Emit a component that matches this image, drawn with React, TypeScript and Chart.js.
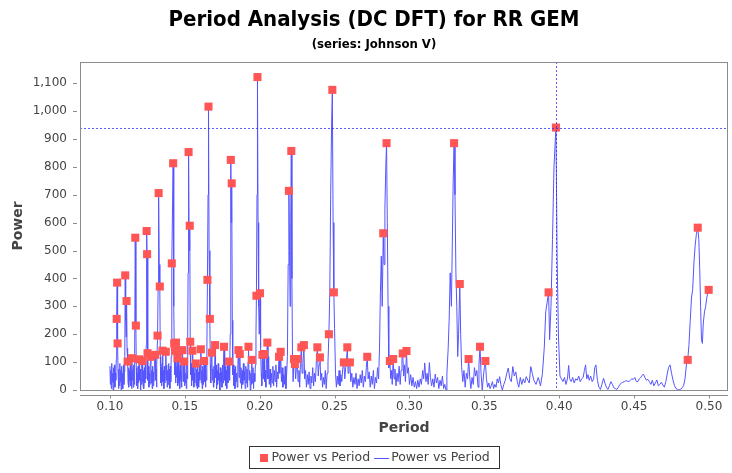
import React, { useEffect, useRef } from "react";
import { Chart, registerables } from "chart.js";

Chart.register(...registerables);

// ---------- text ----------
const chartTitle = "Period Analysis (DC DFT) for RR GEM";
const chartSubtitle = "(series: Johnson V)";
const xAxisTitle = "Period";
const yAxisTitle = "Power";
const seriesLabels = ["Power vs Period", "Power vs Period"];

// ---------- axes ----------
const xTickValues = [0.1, 0.15, 0.2, 0.25, 0.3, 0.35, 0.4, 0.45, 0.5];
const yTickValues = [0, 100, 200, 300, 400, 500, 600, 700, 800, 900, 1000, 1100];
const xRange = [0.08, 0.5127];
const yRange = [0, 1176];

// ---------- crosshair (selected top hit) ----------
const crosshairPeriod = 0.3978;
const crosshairPower = 941;

// ---------- power spectrum (period, power) ----------
const curveA: [number, number][] = [
  [0.1000,85],[0.1003,20],[0.1006,70],[0.1009,5],[0.1012,95],[0.1015,30],[0.1018,60],[0.1021,0],[0.1024,80],[0.1027,25],
  [0.1030,90],[0.1033,10],[0.1036,60],[0.1039,35],[0.1042,110],[0.1045,255],[0.1048,385],[0.1051,167],[0.1054,60],[0.1057,5],
  [0.1060,75],[0.1063,15],[0.1066,95],[0.1069,30],[0.1072,70],[0.1075,0],[0.1078,85],[0.1081,25],[0.1084,60],[0.1087,5],
  [0.1090,90],[0.1093,20],[0.1096,65],[0.1099,120],[0.1102,411],[0.1105,250],[0.1108,190],[0.1111,319],[0.1114,150],[0.1118,102],
  [0.1121,25],[0.1124,80],[0.1127,10],[0.1130,70],[0.1133,35],[0.1136,95],[0.1139,15],[0.1142,65],[0.1145,5],[0.1147,114],
  [0.1150,35],[0.1153,75],[0.1156,10],[0.1159,90],[0.1162,20],[0.1165,130],[0.1169,546],[0.1173,231],[0.1176,80],[0.1179,15],
  [0.1182,60],[0.1185,5],[0.1188,85],[0.1191,25],[0.1195,110],[0.1198,35],[0.1201,75],[0.1204,0],[0.1207,60],[0.1210,20],
  [0.1213,90],[0.1216,30],[0.1218,104],[0.1221,15],[0.1224,70],[0.1227,5],[0.1230,80],[0.1233,25],[0.1236,95],[0.1239,40],
  [0.1242,160],[0.1245,570],[0.1248,487],[0.1251,132],[0.1254,35],[0.1257,85],[0.1260,10],[0.1263,60],[0.1266,20],[0.1269,95],
  [0.1273,119],[0.1276,25],[0.1279,70],[0.1282,5],[0.1285,85],[0.1288,15],[0.1291,65],[0.1294,30],[0.1297,90],[0.1302,126],
  [0.1305,35],[0.1308,75],[0.1311,10],[0.1314,90],[0.1318,195],[0.1322,380],[0.1325,706],[0.1329,450],[0.1333,371],[0.1336,120],
  [0.1339,25],[0.1342,80],[0.1345,15],[0.1348,95],[0.1351,141],[0.1354,30],[0.1357,70],[0.1360,5],[0.1363,85],[0.1366,25],
  [0.1369,60],[0.1373,137],[0.1376,35],[0.1379,90],[0.1382,10],[0.1385,70],[0.1388,20],[0.1391,95],[0.1394,35],[0.1397,75],
  [0.1400,5],[0.1403,85],[0.1406,30],[0.1409,120],[0.1413,454],[0.1417,620],[0.1422,813],[0.1426,300],[0.1429,167],[0.1432,55],
  [0.1435,141],[0.1438,25],[0.1441,170],[0.1444,45],[0.1448,85],[0.1451,114],[0.1454,15],[0.1457,137],[0.1460,25],[0.1463,70],
  [0.1466,5],[0.1469,90],[0.1472,35],[0.1475,65],[0.1478,10],[0.1481,95],[0.1485,143],[0.1488,30],[0.1491,75],[0.1495,102],
  [0.1498,15],[0.1501,80],[0.1504,25],[0.1507,60],[0.1510,5],[0.1513,90],[0.1516,40],[0.1519,180],[0.1522,420],[0.1525,853],
  [0.1529,500],[0.1533,589],[0.1536,173],[0.1539,55],[0.1542,95],[0.1545,15],[0.1548,70],[0.1551,141],[0.1554,35],[0.1557,85],
  [0.1560,10],[0.1563,60],[0.1566,25],[0.1569,90],[0.1573,95],[0.1576,15],[0.1579,75],[0.1582,5],[0.1585,85],[0.1588,30],
  [0.1591,65],[0.1594,10],[0.1597,90],[0.1600,35],[0.1604,80],[0.1607,146],[0.1610,25],[0.1613,70],[0.1616,5],[0.1619,85],
  [0.1622,20],[0.1625,60],[0.1629,104],[0.1632,30],[0.1635,90],[0.1638,10],[0.1641,75],[0.1644,35],[0.1647,130],[0.1651,395],
  [0.1655,700],[0.1658,1016],[0.1662,500],[0.1667,255],[0.1670,90],[0.1673,25],[0.1677,110],[0.1680,134],[0.1684,35],[0.1687,75],
  [0.1691,10],[0.1694,85],[0.1698,25],[0.1702,161],[0.1705,45],[0.1709,90],[0.1712,5],[0.1716,70],[0.1719,20],[0.1723,95],
  [0.1726,35],[0.1730,60],[0.1734,0],[0.1737,80],[0.1741,30],[0.1745,65],[0.1748,10],[0.1752,90],[0.1755,25],[0.1759,120],
  [0.1762,155],[0.1766,35],[0.1769,85],[0.1773,15],[0.1777,70],[0.1780,5],[0.1784,90],[0.1788,25],[0.1791,60],[0.1795,102],
  [0.1799,35],[0.1803,200],[0.1807,825],[0.1810,600],[0.1813,741],[0.1817,250],[0.1820,55],[0.1824,90],[0.1828,15],[0.1832,75],
  [0.1835,5],[0.1839,85],[0.1843,30],[0.1847,60],[0.1850,10],[0.1854,90],[0.1858,143],[0.1862,45],[0.1867,129],[0.1871,25],
  [0.1875,80],[0.1879,5],[0.1883,70],[0.1887,20],[0.1891,95],[0.1895,35],[0.1899,65],[0.1903,5],[0.1907,85],[0.1911,25],
  [0.1915,75],[0.1919,10],[0.1922,100],[0.1925,155],[0.1929,35],[0.1933,70],[0.1937,0],[0.1941,60],[0.1945,20],[0.1947,108],
  [0.1951,25],[0.1955,80],[0.1959,5],[0.1963,60],[0.1967,30],[0.1971,90],[0.1975,200],[0.1978,338],[0.1982,700],[0.1985,1122],
  [0.1989,600],[0.1993,300],[0.1997,200],[0.2002,347],[0.2006,150],[0.2010,60],
];

const curveB: [number, number][] = [
  [0.2014,15],[0.2018,126],[0.2022,40],[0.2025,90],[0.2029,129],[0.2033,30],[0.2037,70],[0.2041,10],[0.2045,95],[0.2051,170],
  [0.2055,40],[0.2060,120],[0.2064,20],[0.2069,75],[0.2073,10],[0.2078,60],[0.2083,25],[0.2088,85],[0.2093,15],[0.2098,70],
  [0.2103,30],[0.2108,90],[0.2113,10],[0.2118,65],[0.2123,40],[0.2129,119],[0.2134,60],[0.2140,137],[0.2145,30],[0.2150,80],
  [0.2155,10],[0.2160,55],[0.2165,20],[0.2170,85],[0.2175,5],[0.2180,60],[0.2185,120],[0.2190,450],[0.2195,714],[0.2199,500],
  [0.2203,300],[0.2207,600],[0.2211,857],[0.2215,400],[0.2219,120],[0.2223,30],[0.2229,111],[0.2235,93],[0.2240,40],[0.2245,80],
  [0.2251,111],[0.2256,30],[0.2262,70],[0.2267,10],[0.2272,95],[0.2278,153],[0.2283,60],[0.2289,100],[0.2295,161],[0.2300,40],
  [0.2306,70],[0.2312,10],[0.2318,55],[0.2324,20],[0.2330,65],[0.2336,5],[0.2342,50],[0.2348,25],[0.2354,80],[0.2360,15],
  [0.2366,60],[0.2372,30],[0.2378,100],[0.2385,153],[0.2391,50],[0.2396,90],[0.2402,117],[0.2408,35],[0.2414,60],[0.2420,10],
  [0.2426,45],[0.2432,20],[0.2438,70],[0.2444,5],[0.2450,60],[0.2456,100],[0.2462,200],[0.2468,350],[0.2474,700],[0.2480,950],
  [0.2485,1076],[0.2490,600],[0.2495,350],[0.2500,220],[0.2506,60],[0.2512,10],[0.2518,50],[0.2524,20],[0.2530,70],[0.2536,15],
  [0.2542,55],[0.2548,30],[0.2554,75],[0.2562,99],[0.2568,40],[0.2574,80],[0.2580,110],[0.2585,153],[0.2590,60],[0.2596,90],
  [0.2602,99],[0.2608,30],[0.2615,60],[0.2622,10],[0.2629,45],[0.2636,20],[0.2643,60],[0.2650,5],[0.2657,40],[0.2664,15],
  [0.2671,55],[0.2678,25],[0.2685,70],[0.2692,10],[0.2699,50],[0.2706,30],[0.2712,80],[0.2718,119],[0.2724,40],[0.2731,65],
  [0.2738,10],[0.2745,50],[0.2752,20],[0.2759,70],[0.2766,5],[0.2773,45],[0.2780,25],[0.2787,80],[0.2794,40],[0.2800,150],
  [0.2806,350],[0.2812,480],[0.2818,300],[0.2825,562],[0.2830,450],[0.2836,650],[0.2842,800],[0.2847,885],[0.2852,600],[0.2857,300],
  [0.2862,80],[0.2869,104],[0.2875,40],[0.2880,70],[0.2885,20],[0.2891,111],[0.2897,40],[0.2903,75],[0.2910,15],[0.2917,60],
  [0.2924,30],[0.2931,85],[0.2938,20],[0.2944,70],[0.2950,110],[0.2955,131],[0.2961,50],[0.2967,90],[0.2973,30],[0.2980,140],
  [0.2986,60],[0.2993,80],[0.3000,20],
];

const curveC: [number, number][] = [
  [0.3008,55],[0.3016,15],[0.3024,45],[0.3032,10],[0.3040,30],[0.3048,5],[0.3056,35],[0.3064,10],[0.3072,40],[0.3080,20],
  [0.3088,70],[0.3095,40],[0.3102,97],[0.3110,30],[0.3118,60],[0.3125,20],[0.3133,98],[0.3140,45],[0.3148,15],[0.3156,40],
  [0.3164,10],[0.3172,57],[0.3180,25],[0.3188,45],[0.3196,5],[0.3204,35],[0.3212,15],[0.3220,50],[0.3228,5],[0.3236,20],
  [0.3244,0],[0.3250,60],[0.3258,143],[0.3265,250],[0.3272,420],[0.3280,300],[0.3286,520],[0.3292,750],[0.3298,885],[0.3304,700],
  [0.3310,420],[0.3316,300],[0.3322,120],[0.3328,200],[0.3336,380],[0.3342,200],[0.3348,84],[0.3356,30],[0.3364,70],[0.3372,10],
  [0.3380,60],[0.3388,40],[0.3395,111],[0.3402,50],[0.3410,5],[0.3418,45],[0.3426,20],[0.3434,80],[0.3442,50],[0.3450,70],
  [0.3458,10],[0.3464,90],[0.3471,155],[0.3478,60],[0.3486,0],[0.3494,50],[0.3500,80],[0.3507,104],[0.3514,40],[0.3522,10],
  [0.3530,25],[0.3538,5],[0.3546,15],[0.3554,30],[0.3562,5],[0.3570,20],[0.3578,10],[0.3586,40],[0.3594,25],[0.3602,48],
  [0.3610,20],[0.3620,0],[0.3630,20],[0.3640,35],[0.3650,60],[0.3660,79],[0.3670,40],[0.3680,30],[0.3690,84],[0.3700,50],
  [0.3710,65],[0.3720,30],[0.3730,10],[0.3740,45],[0.3750,20],[0.3760,40],[0.3770,25],[0.3780,48],[0.3790,35],[0.3800,25],
  [0.3810,84],[0.3820,60],[0.3830,36],[0.3845,20],[0.3860,45],[0.3875,15],[0.3888,60],[0.3900,150],[0.3910,280],[0.3929,350],
  [0.3936,180],[0.3945,300],[0.3955,540],[0.3965,800],[0.3978,941],[0.3986,470],[0.3995,190],[0.4005,50],
];

const curveD: [number, number][] = [
  [0.4015,40],[0.4025,30],[0.4035,45],[0.4045,20],[0.4055,40],[0.4063,88],[0.4070,40],[0.4080,30],[0.4090,45],[0.4100,25],
  [0.4110,40],[0.4120,35],[0.4130,50],[0.4140,30],[0.4150,40],[0.4160,45],[0.4168,70],[0.4176,90],[0.4184,40],[0.4192,55],
  [0.4200,35],[0.4210,50],[0.4220,30],[0.4230,40],[0.4237,80],[0.4245,90],[0.4255,35],[0.4265,10],[0.4275,2],[0.4285,20],
  [0.4296,42],[0.4305,25],[0.4315,10],[0.4325,2],[0.4335,15],[0.4345,30],[0.4355,20],[0.4365,8],[0.4375,5],[0.4385,2],
  [0.4395,10],[0.4405,20],[0.4415,25],[0.4425,28],[0.4435,30],[0.4445,33],[0.4455,32],[0.4465,30],[0.4475,35],[0.4485,40],
  [0.4495,38],[0.4505,45],[0.4515,30],[0.4525,30],[0.4535,40],[0.4545,45],[0.4553,52],[0.4562,57],[0.4572,45],[0.4582,35],
  [0.4592,38],[0.4602,30],[0.4612,20],[0.4622,35],[0.4632,15],[0.4642,25],[0.4652,36],[0.4662,15],[0.4672,20],[0.4682,28],
  [0.4692,18],[0.4702,10],[0.4712,30],[0.4722,60],[0.4730,80],[0.4740,90],[0.4750,60],[0.4760,35],[0.4770,15],[0.4780,5],
  [0.4790,2],[0.4800,0],[0.4810,2],[0.4820,8],[0.4830,15],[0.4840,40],[0.4851,100],[0.4858,108],[0.4866,160],[0.4875,250],
  [0.4883,330],[0.4891,360],[0.4900,460],[0.4908,520],[0.4916,560],[0.4925,582],[0.4932,540],[0.4938,440],[0.4944,300],[0.4950,180],
  [0.4956,167],[0.4962,240],[0.4970,280],[0.4978,300],[0.4985,330],[0.4992,350],[0.4998,359],
];

// ---------- top hits (red squares) ----------
const topHits: [number, number][] = [
  [0.1045,255],[0.1048,385],[0.1051,167],[0.1102,411],[0.1111,319],[0.1118,102],[0.1147,114],[0.1169,546],[0.1173,231],[0.1195,110],
  [0.1218,104],[0.1245,570],[0.1248,487],[0.1251,132],[0.1273,119],[0.1302,126],[0.1318,195],[0.1325,706],[0.1333,371],[0.1351,141],
  [0.1373,137],[0.1413,454],[0.1422,813],[0.1429,167],[0.1435,141],[0.1441,170],[0.1451,114],[0.1457,137],[0.1485,143],[0.1495,102],
  [0.1525,853],[0.1533,589],[0.1536,173],[0.1551,141],[0.1573,95],[0.1607,146],[0.1629,104],[0.1651,395],[0.1658,1016],[0.1667,255],
  [0.1680,134],[0.1702,161],[0.1762,155],[0.1795,102],[0.1807,825],[0.1813,741],[0.1858,143],[0.1867,129],[0.1925,155],[0.1947,108],
  [0.1978,338],[0.1985,1122],[0.2002,347],[0.2018,126],[0.2029,129],[0.2051,170],[0.2129,119],[0.2140,137],[0.2195,714],[0.2211,857],
  [0.2229,111],[0.2235,93],[0.2251,111],[0.2278,153],[0.2295,161],[0.2385,153],[0.2402,117],[0.2462,200],[0.2485,1076],[0.2495,350],
  [0.2562,99],[0.2585,153],[0.2602,99],[0.2718,119],[0.2825,562],[0.2847,885],[0.2869,104],[0.2891,111],[0.2955,131],[0.2980,140],
  [0.3298,885],[0.3336,380],[0.3395,111],[0.3471,155],[0.3507,104],[0.3929,350],[0.3978,941],[0.4858,108],[0.4925,582],[0.4998,359],
];

// ---------- styling ----------
const narrowFamily = '"Liberation Sans Narrow", "DejaVu Sans Condensed", "Arial Narrow", sans-serif';
const plainFamily = '"DejaVu Sans", sans-serif';
const hitColor = "#ff5555";
const curveColor = "#5555ff";
const axisGray = "#8c8c8c";
const labelGray = "#444444";

const framePlugin = {
  id: "jfreeFrame",
  afterDatasetsDraw(chart: any) {
    const { ctx, chartArea: a, scales } = chart;
    const xs = scales.x;
    const ys = scales.y;
    ctx.save();
    // crosshairs
    ctx.strokeStyle = "rgba(40,40,255,0.75)";
    ctx.lineWidth = 1;
    ctx.setLineDash([2, 2]);
    const cx = Math.round(xs.getPixelForValue(crosshairPeriod)) + 0.5;
    const cy = Math.round(ys.getPixelForValue(crosshairPower)) + 0.5;
    ctx.beginPath();
    ctx.moveTo(cx, a.top);
    ctx.lineTo(cx, a.bottom);
    ctx.moveTo(a.left, cy);
    ctx.lineTo(a.right, cy);
    ctx.stroke();
    ctx.setLineDash([]);
    // plot outline
    ctx.strokeStyle = axisGray;
    ctx.strokeRect(a.left + 0.5, a.top + 0.5, a.right - a.left - 1, a.bottom - a.top);
    // x axis line (offset below the plot) and tick marks
    const axY = a.bottom + 5.5;
    ctx.beginPath();
    ctx.moveTo(a.left, axY);
    ctx.lineTo(a.right, axY);
    for (const v of xTickValues) {
      const px = Math.round(xs.getPixelForValue(v)) + 0.5;
      ctx.moveTo(px, axY);
      ctx.lineTo(px, axY + 3);
    }
    // y tick marks
    for (const v of yTickValues) {
      const py = Math.round(ys.getPixelForValue(v)) + 0.5;
      ctx.moveTo(a.left - 7, py);
      ctx.lineTo(a.left - 3, py);
    }
    ctx.stroke();
    ctx.restore();
  },
  afterDraw(chart: any) {
    // legend box with both series
    const { ctx } = chart;
    const ds = chart.data.datasets;
    ctx.save();
    ctx.font = `12.5px ${plainFamily}`;
    const w1 = ctx.measureText(ds[0].label).width;
    const w2 = ctx.measureText(ds[1].label).width;
    const total = Math.round(10 + 8 + 4 + w1 + 4 + 15 + 2 + w2 + 10);
    const left = Math.round(chart.width / 2 + 7.5 - total / 2) + 0.5;
    const top = chart.height - 26.5;
    const h = 22;
    const mid = top + h / 2;
    ctx.fillStyle = "#ffffff";
    ctx.fillRect(left, top, total, h);
    ctx.strokeStyle = "#333333";
    ctx.lineWidth = 1;
    ctx.strokeRect(left, top, total, h);
    let x = left + 10;
    ctx.fillStyle = ds[0].backgroundColor;
    ctx.fillRect(Math.round(x), Math.round(mid - 4), 8, 8);
    x += 12;
    ctx.fillStyle = labelGray;
    ctx.textBaseline = "middle";
    ctx.textAlign = "left";
    ctx.fillText(ds[0].label, x, mid);
    x += w1 + 4;
    ctx.strokeStyle = ds[1].borderColor;
    ctx.beginPath();
    ctx.moveTo(x, Math.round(mid) + 0.5);
    ctx.lineTo(x + 15, Math.round(mid) + 0.5);
    ctx.stroke();
    x += 17;
    ctx.fillStyle = labelGray;
    ctx.fillText(ds[1].label, x, mid);
    ctx.restore();
  },
};

export default function App() {
  const canvasRef = useRef<HTMLCanvasElement | null>(null);

  useEffect(() => {
    document.body.style.margin = "0";
    const canvas = canvasRef.current;
    if (!canvas) return;
    const curve = [...curveA, ...curveB, ...curveC, ...curveD];
    const chart = new Chart(canvas, {
      type: "scatter",
      data: {
        datasets: [
          {
            label: seriesLabels[0],
            data: topHits.map(([x, y]) => ({ x, y })),
            pointStyle: "rect",
            pointRadius: 5.7,
            pointHoverRadius: 5.7,
            backgroundColor: hitColor,
            borderColor: hitColor,
            borderWidth: 0,
            showLine: false,
            order: 0,
          },
          {
            label: seriesLabels[1],
            data: curve.map(([x, y]) => ({ x, y })),
            showLine: true,
            pointRadius: 0,
            pointHoverRadius: 0,
            borderColor: curveColor,
            backgroundColor: curveColor,
            borderWidth: 1,
            tension: 0,
            order: 1,
          },
        ],
      },
      options: {
        responsive: false,
        animation: false,
        devicePixelRatio: 1,
        events: [],
        layout: { padding: { left: 20, right: 4, top: 0, bottom: 30 }, autoPadding: false },
        plugins: {
          legend: { display: false },
          tooltip: { enabled: false },
          title: {
            display: true,
            text: chartTitle,
            color: "#000000",
            font: { family: narrowFamily, size: 22, weight: "bold" },
            padding: { top: 7, bottom: 0 },
          },
          subtitle: {
            display: true,
            text: chartSubtitle,
            color: "#000000",
            font: { family: narrowFamily, size: 13, weight: "bold" },
            padding: { top: 3, bottom: 10 },
          },
        },
        scales: {
          x: {
            type: "linear",
            min: xRange[0],
            max: xRange[1],
            afterBuildTicks: (s: any) => {
              s.ticks = xTickValues.map((v) => ({ value: v }));
            },
            afterFit: (s: any) => {
              s.height = 53;
              s.paddingLeft = 0;
              s.paddingRight = 0;
            },
            grid: { display: false, drawTicks: false },
            border: { display: false },
            ticks: {
              autoSkip: false,
              maxRotation: 0,
              padding: 10,
              color: labelGray,
              font: { family: plainFamily, size: 12 },
              callback: (v: any) => Number(v).toFixed(2),
            },
            title: {
              display: true,
              text: xAxisTitle,
              color: labelGray,
              font: { family: plainFamily, size: 14, weight: "bold" },
              padding: { top: 0, bottom: 6.6 },
            },
          },
          y: {
            type: "linear",
            min: yRange[0],
            max: yRange[1],
            afterBuildTicks: (s: any) => {
              s.ticks = yTickValues.map((v) => ({ value: v }));
            },
            afterFit: (s: any) => {
              s.width = 60;
              s.paddingTop = 0;
              s.paddingBottom = 0;
            },
            grid: { display: false, drawTicks: false },
            border: { display: false },
            ticks: {
              autoSkip: false,
              padding: 13,
              color: labelGray,
              font: { family: plainFamily, size: 12 },
              callback: (v: any) => Number(v).toLocaleString("en-US"),
            },
            title: {
              display: true,
              text: yAxisTitle,
              color: labelGray,
              font: { family: plainFamily, size: 14, weight: "bold" },
              padding: { top: -10.4, bottom: 0 },
            },
          },
        },
      },
      plugins: [framePlugin],
    } as any);
    return () => chart.destroy();
  }, []);

  return (
    <div style={{ width: 732, height: 473, background: "#ffffff" }}>
      <canvas ref={canvasRef} width={732} height={473} />
    </div>
  );
}
